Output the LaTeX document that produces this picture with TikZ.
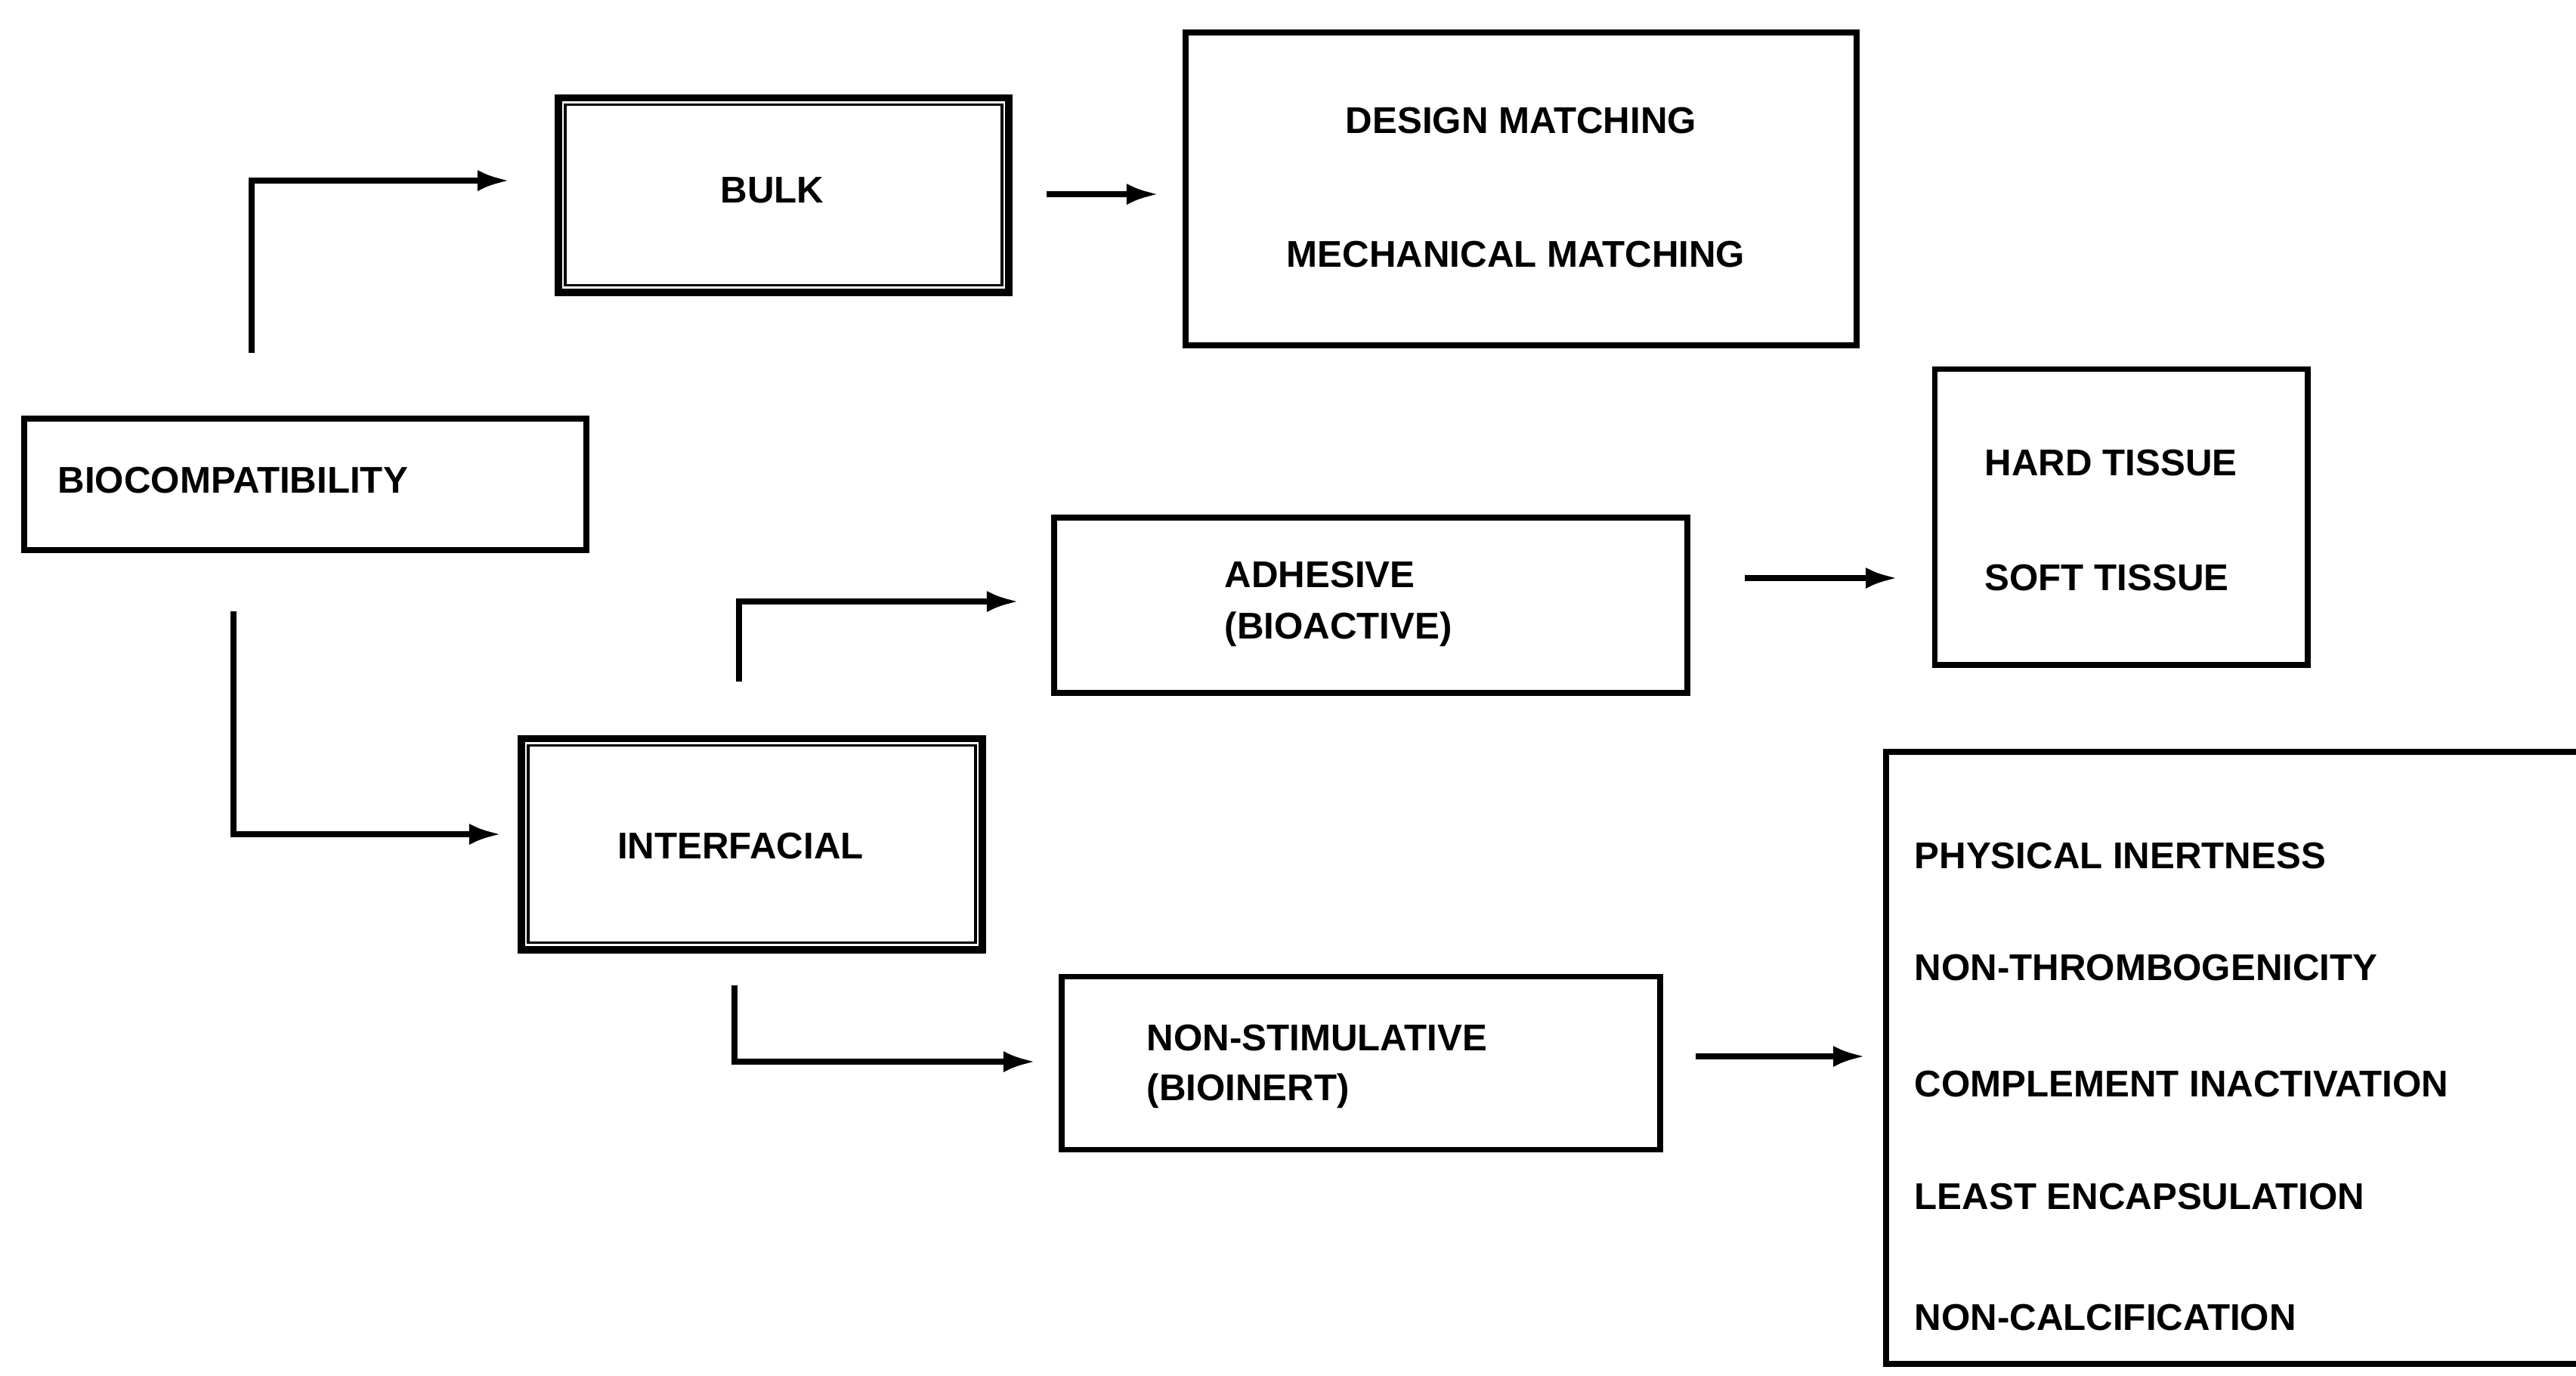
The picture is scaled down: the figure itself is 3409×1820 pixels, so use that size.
\documentclass[tikz,border=0pt]{standalone}
\usepackage{fontspec}
\setmainfont{Liberation Sans}
\usetikzlibrary{arrows.meta,calc}
\begin{document}
\begin{tikzpicture}[x=0.01cm,y=-0.01cm,
  box/.style={draw,line width=2.2pt,rectangle,inner sep=0pt},
  lbl/.style={font=\bfseries\fontsize{14}{16}\selectfont,inner sep=0pt},
  arr/.style={line width=2.2pt,-{Latex[length=0.42cm,width=0.28cm]}}]
\clip (0,0) rectangle (3409,1820);
\fill[white] (0,0) rectangle (3409,1820);
% boxes
\node[box,minimum width=7.43cm,minimum height=1.74cm] (bio) at (404,641) {};
\node[box,line width=2.8pt,minimum width=5.96cm,minimum height=2.57cm] (bulk) at (1037,258) {};
\draw[line width=1.1pt] ([shift={(14,14)}]bulk.north west) rectangle ([shift={(-14,-14)}]bulk.south east);
\node[box,minimum width=8.87cm,minimum height=4.14cm] (design) at (2013,250) {};
\node[box,minimum width=8.38cm,minimum height=2.32cm] (adh) at (1814,801) {};
\node[box,minimum width=4.93cm,minimum height=3.91cm] (tissue) at (2807,684) {};
\node[box,line width=2.8pt,minimum width=6.09cm,minimum height=2.79cm] (inter) at (995,1117) {};
\draw[line width=1.1pt] ([shift={(14,14)}]inter.north west) rectangle ([shift={(-14,-14)}]inter.south east);
\node[box,minimum width=7.92cm,minimum height=2.29cm] (nonstim) at (1801,1407) {};
\node[box,minimum width=9.44cm,minimum height=8.09cm] (props) at (2968,1400) {};
% texts
\node[lbl,anchor=west] (tbio) at (76,636) {BIOCOMPATIBILITY};
\node[lbl] (tbulk) at (1022,252) {BULK};
\node[lbl] (td1) at (2013,160) {DESIGN MATCHING};
\node[lbl] (td2) at (2006,337) {MECHANICAL MATCHING};
\node[lbl,anchor=west] (ta1) at (1620,761) {ADHESIVE};
\node[lbl,anchor=west] (ta2) at (1620,833) {(BIOACTIVE)};
\node[lbl,anchor=west] (tt1) at (2626,613) {HARD TISSUE};
\node[lbl,anchor=west] (tt2) at (2626,765) {SOFT TISSUE};
\node[lbl] (tint) at (980,1120) {INTERFACIAL};
\node[lbl,anchor=west] (tn1) at (1517,1374) {NON-STIMULATIVE};
\node[lbl,anchor=west] (tn2) at (1517,1444) {(BIOINERT)};
\node[lbl,anchor=west] (tp1) at (2533,1133) {PHYSICAL INERTNESS};
\node[lbl,anchor=west] (tp2) at (2533,1281) {NON-THROMBOGENICITY};
\node[lbl,anchor=west] (tp3) at (2533,1435) {COMPLEMENT INACTIVATION};
\node[lbl,anchor=west] (tp4) at (2533,1584) {LEAST ENCAPSULATION};
\node[lbl,anchor=west] (tp5) at (2533,1744) {NON-CALCIFICATION};
% connector end points
\coordinate (s1) at (333,467);
\coordinate (e1) at (674,239);
\coordinate (s2) at (1385,257);
\coordinate (e2) at (1533,257);
\coordinate (s3) at (309,809);
\coordinate (e3) at (663,1104);
\coordinate (s4) at (978,902);
\coordinate (e4) at (1348,796);
\coordinate (s5) at (972,1304);
\coordinate (e5) at (1370,1405);
\coordinate (s6) at (2309,765);
\coordinate (e6) at (2511,765);
\coordinate (s7) at (2244,1398);
\coordinate (e7) at (2468,1398);
% connectors
\draw[arr] (s1) |- (e1);
\draw[arr] (s2) -- (e2);
\draw[arr] (s3) |- (e3);
\draw[arr] (s4) |- (e4);
\draw[arr] (s5) |- (e5);
\draw[arr] (s6) -- (e6);
\draw[arr] (s7) -- (e7);
\end{tikzpicture}
\end{document}
